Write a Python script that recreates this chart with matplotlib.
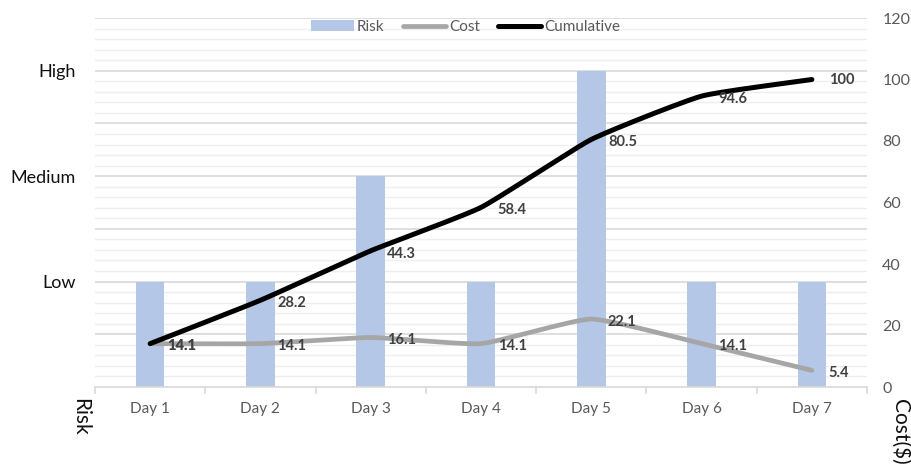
import numpy as np
import matplotlib.pyplot as plt
from matplotlib.ticker import MultipleLocator, FixedLocator

plt.rcParams['font.family'] = ['Lato', 'DejaVu Sans']

days = ['Day 1', 'Day 2', 'Day 3', 'Day 4', 'Day 5', 'Day 6', 'Day 7']
risk = [1, 1, 2, 1, 3, 1, 1]
cost = [14.1, 14.1, 16.1, 14.1, 22.1, 14.1, 5.4]
cumulative = [14.1, 28.2, 44.3, 58.4, 80.5, 94.6, 100]
risk_levels = ['Low', 'Medium', 'High']


def smooth(xs, ys, tension=0.45, n=30):
    # cardinal spline through the points; lower tension = straighter segments
    xs = np.asarray(xs, float)
    ys = np.asarray(ys, float)
    pts = np.column_stack([xs, ys])
    tang = np.zeros_like(pts)
    tang[1:-1] = (pts[2:] - pts[:-2]) / 2
    tang[0] = pts[1] - pts[0]
    tang[-1] = pts[-1] - pts[-2]
    tang *= tension
    t = np.linspace(0, 1, n)[:, None]
    h00 = 2 * t ** 3 - 3 * t ** 2 + 1
    h10 = t ** 3 - 2 * t ** 2 + t
    h01 = -2 * t ** 3 + 3 * t ** 2
    h11 = t ** 3 - t ** 2
    segs = [h00 * pts[i] + h10 * tang[i] + h01 * pts[i + 1] + h11 * tang[i + 1]
            for i in range(len(pts) - 1)]
    curve = np.vstack(segs)
    return curve[:, 0], curve[:, 1]


fig = plt.figure(figsize=(9.11, 4.73), dpi=100)
ax = fig.add_axes([95 / 911, 86 / 473, 772 / 911, 369 / 473])
x = np.arange(len(days))

bars = ax.bar(x, risk, width=0.26, color='#b4c7e7', label='Risk', zorder=2)
ax.set_ylim(0, 3.5)
ax.set_xlim(-0.5, len(days) - 0.5)
ax.yaxis.set_major_locator(FixedLocator([0.5, 1, 1.5, 2, 2.5, 3, 3.5]))
ax.yaxis.set_minor_locator(MultipleLocator(0.1))
ax.set_yticklabels(['', risk_levels[0], '', risk_levels[1], '', risk_levels[2], ''],
                   fontsize=13, color='#111111')
ax.grid(axis='y', which='major', color='#d9d9d9', lw=1.2, zorder=0)
ax.grid(axis='y', which='minor', color='#eeeeee', lw=1.0, zorder=0)
ax.tick_params(axis='y', which='both', length=0, pad=14)
ax.set_axisbelow(True)

ax.set_xticks(x)
ax.set_xticklabels(days, fontsize=11, color='#595959')
ax.set_xticks(np.arange(-0.5, len(days)), minor=True)
ax.tick_params(axis='x', which='major', length=0, pad=11)
ax.tick_params(axis='x', which='minor', length=5, color='#d9d9d9', width=1.2)
for side in ['left', 'right', 'top']:
    ax.spines[side].set_visible(False)
ax.spines['bottom'].set_color('#d9d9d9')
ax.spines['bottom'].set_linewidth(1.2)

ax2 = ax.twinx()
ax2.set_ylim(0, 120)
ax2.set_yticks(range(0, 121, 20))
ax2.tick_params(axis='y', length=0, labelsize=11.5, labelcolor='#595959', pad=11)
for side in ax2.spines:
    ax2.spines[side].set_visible(False)

sx, sy = smooth(x, cost)
ax2.plot(sx, sy, color='#a6a6a6', lw=3.4, solid_capstyle='round', label='Cost', zorder=3)
sx, sy = smooth(x, cumulative)
ax2.plot(sx, sy, color='black', lw=3.6, solid_capstyle='round', label='Cumulative', zorder=4)

for series in (cost, cumulative):
    for xi, v in zip(x, series):
        ax2.annotate(f'{v:g}', (xi, v), xytext=(12, -2 if v < 100 else 0),
                     textcoords='offset points', ha='left', va='center',
                     fontsize=10.5, fontweight='bold', color='#404040', zorder=5)

handles = [bars] + ax2.get_lines()
ax.legend(handles, ['Risk', 'Cost', 'Cumulative'], loc='center', bbox_to_anchor=(0.48, 0.976),
          ncol=3, frameon=False, fontsize=11, labelcolor='#595959', handlelength=2.8,
          handletextpad=0.2, columnspacing=1.2, borderpad=0)

fig.text(80 / 911, 1 - 417 / 473, 'Risk', rotation=270, ha='center', va='center',
         fontsize=15, color='#111111')
fig.text(900 / 911, 1 - 432 / 473, 'Cost($)', rotation=270, ha='center', va='center',
         fontsize=15, color='#111111')

fig.savefig('out.png', dpi=100)
